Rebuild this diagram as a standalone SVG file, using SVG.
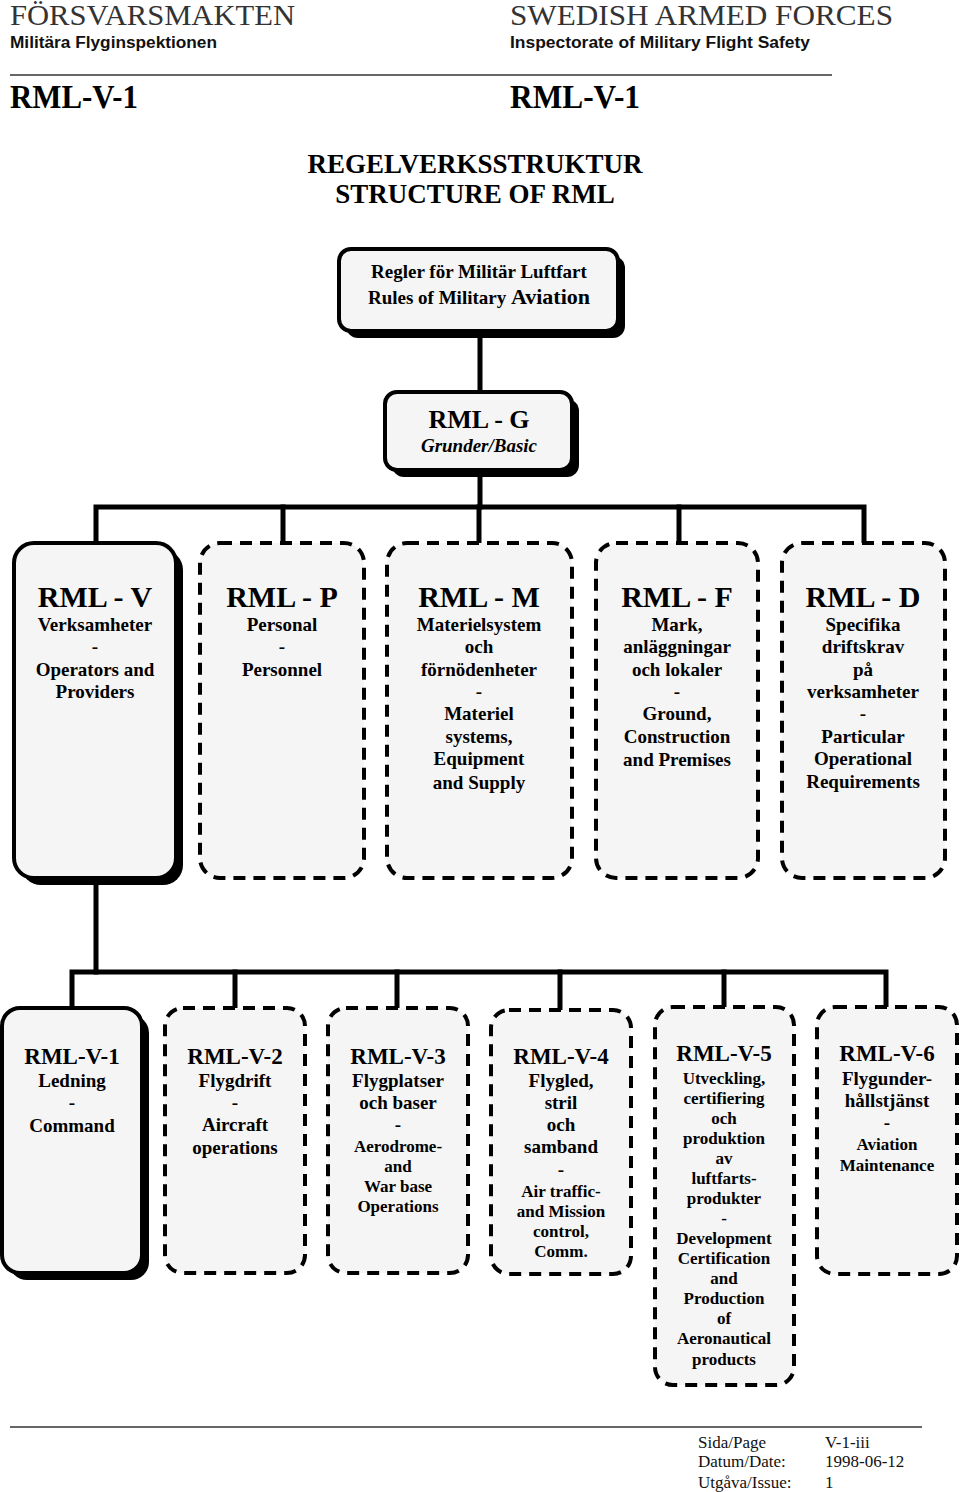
<svg xmlns="http://www.w3.org/2000/svg" width="960" height="1492" viewBox="0 0 960 1492">
<style>
.bg{fill:#fff}
.box{fill:#f5f5f5;stroke:#000;stroke-width:4}
.dash{fill:#f5f5f5;stroke:#000;stroke-width:4;stroke-dasharray:12 8}
.sh{fill:#000}
.conn{stroke:#000;stroke-width:5;fill:none;stroke-linecap:square}
.rule{stroke:#333;stroke-width:1.5}
.t{font-family:"Liberation Serif",serif;font-weight:bold;text-anchor:middle;fill:#000}
.h1{font-size:30px}
.h2{font-size:23px}
.s19{font-size:19px}
.s17{font-size:17px}
.hd{font-family:"Liberation Serif",serif;font-size:30px;fill:#333}
.hs{font-family:"Liberation Sans",sans-serif;font-size:16px;font-weight:bold;fill:#111}
.rv{font-family:"Liberation Serif",serif;font-size:34px;font-weight:bold;fill:#000}
.ft{font-family:"Liberation Serif",serif;font-size:17px;fill:#111}
</style>
<rect class="bg" x="0" y="0" width="960" height="1492"/>

<g id="header">
<text class="hd" x="10" y="25" textLength="285" lengthAdjust="spacingAndGlyphs">FÖRSVARSMAKTEN</text>
<text class="hs" x="10" y="48" textLength="207" lengthAdjust="spacingAndGlyphs">Militära Flyginspektionen</text>
<text class="hd" x="510" y="25" textLength="383" lengthAdjust="spacingAndGlyphs">SWEDISH ARMED FORCES</text>
<text class="hs" x="510" y="48" textLength="300" lengthAdjust="spacingAndGlyphs">Inspectorate of Military Flight Safety</text>
<line class="rule" x1="10" y1="75" x2="832" y2="75"/>
<text class="rv" x="10" y="108" textLength="128" lengthAdjust="spacingAndGlyphs">RML-V-1</text>
<text class="rv" x="510" y="108" textLength="130" lengthAdjust="spacingAndGlyphs">RML-V-1</text>
</g>

<g id="title">
<text class="t" x="475" y="173" style="font-size:27px">REGELVERKSSTRUKTUR</text>
<text class="t" x="475" y="203" style="font-size:27px">STRUCTURE OF RML</text>
</g>

<g id="connectors">
<line class="conn" x1="480" y1="332" x2="480" y2="392"/>
<line class="conn" x1="480" y1="470" x2="480" y2="507"/>
<polyline class="conn" points="96,543 96,507 864,507 864,543"/>
<line class="conn" x1="283" y1="507" x2="283" y2="543"/>
<line class="conn" x1="479" y1="507" x2="479" y2="543"/>
<line class="conn" x1="679" y1="507" x2="679" y2="543"/>
<line class="conn" x1="96" y1="878" x2="96" y2="972"/>
<polyline class="conn" points="72,1008 72,972 886,972 886,1007"/>
<line class="conn" x1="235" y1="972" x2="235" y2="1008"/>
<line class="conn" x1="397" y1="972" x2="397" y2="1008"/>
<line class="conn" x1="560" y1="972" x2="560" y2="1010"/>
<line class="conn" x1="724" y1="972" x2="724" y2="1007"/>
</g>

<g id="node-regler">
<rect class="sh" x="346" y="256" width="279" height="82" rx="12"/>
<rect class="box" x="339" y="249" width="279" height="82" rx="12"/>
<text class="t s19" x="479" y="278">Regler för Militär Luftfart</text>
<text class="t s19" x="479" y="304">Rules of Military <tspan style="font-size:22px">Aviation</tspan></text>
</g>

<g id="node-rml-g">
<rect class="sh" x="392" y="399" width="187" height="78" rx="12"/>
<rect class="box" x="385" y="392" width="187" height="78" rx="12"/>
<text class="t" x="479" y="428" style="font-size:26px">RML - G</text>
<text class="t s19" x="479" y="452" font-style="italic">Grunder/Basic</text>
</g>

<g id="node-rml-v">
<rect class="sh" x="21" y="550" width="162" height="335" rx="20"/>
<rect class="box" x="14" y="543" width="162" height="335" rx="20"/>
<text class="t h1" x="95" y="607">RML - V</text>
<text class="t s19" x="95" y="631">Verksamheter</text>
<text class="t s19" x="95" y="653">-</text>
<text class="t s19" x="95" y="676">Operators and</text>
<text class="t s19" x="95" y="698">Providers</text>
</g>

<g id="node-rml-p">
<rect class="dash" x="200" y="543" width="164" height="335" rx="20"/>
<text class="t h1" x="282" y="607">RML - P</text>
<text class="t s19" x="282" y="631">Personal</text>
<text class="t s19" x="282" y="653">-</text>
<text class="t s19" x="282" y="676">Personnel</text>
</g>

<g id="node-rml-m">
<rect class="dash" x="387" y="543" width="185" height="335" rx="20"/>
<text class="t h1" x="479" y="607">RML - M</text>
<text class="t s19" x="479" y="631">Materielsystem</text>
<text class="t s19" x="479" y="653">och</text>
<text class="t s19" x="479" y="676">förnödenheter</text>
<text class="t s19" x="479" y="698">-</text>
<text class="t s19" x="479" y="720">Materiel</text>
<text class="t s19" x="479" y="743">systems,</text>
<text class="t s19" x="479" y="765">Equipment</text>
<text class="t s19" x="479" y="789">and Supply</text>
</g>

<g id="node-rml-f">
<rect class="dash" x="596" y="543" width="162" height="335" rx="20"/>
<text class="t h1" x="677" y="607">RML - F</text>
<text class="t s19" x="677" y="631">Mark,</text>
<text class="t s19" x="677" y="653">anläggningar</text>
<text class="t s19" x="677" y="676">och lokaler</text>
<text class="t s19" x="677" y="698">-</text>
<text class="t s19" x="677" y="720">Ground,</text>
<text class="t s19" x="677" y="743">Construction</text>
<text class="t s19" x="677" y="766">and Premises</text>
</g>

<g id="node-rml-d">
<rect class="dash" x="782" y="543" width="163" height="335" rx="20"/>
<text class="t h1" x="863" y="607">RML - D</text>
<text class="t s19" x="863" y="631">Specifika</text>
<text class="t s19" x="863" y="653">driftskrav</text>
<text class="t s19" x="863" y="676">på</text>
<text class="t s19" x="863" y="698">verksamheter</text>
<text class="t s19" x="863" y="720">-</text>
<text class="t s19" x="863" y="743">Particular</text>
<text class="t s19" x="863" y="765">Operational</text>
<text class="t s19" x="863" y="788">Requirements</text>
</g>

<g id="node-rml-v-1">
<rect class="sh" x="9" y="1015" width="140" height="265" rx="18"/>
<rect class="box" x="2" y="1008" width="140" height="265" rx="18"/>
<text class="t h2" x="72" y="1064">RML-V-1</text>
<text class="t s19" x="72" y="1087">Ledning</text>
<text class="t s19" x="72" y="1109">-</text>
<text class="t s19" x="72" y="1132">Command</text>
</g>

<g id="node-rml-v-2">
<rect class="dash" x="165" y="1008" width="140" height="265" rx="18"/>
<text class="t h2" x="235" y="1064">RML-V-2</text>
<text class="t s19" x="235" y="1087">Flygdrift</text>
<text class="t s19" x="235" y="1109">-</text>
<text class="t s19" x="235" y="1131">Aircraft</text>
<text class="t s19" x="235" y="1154">operations</text>
</g>

<g id="node-rml-v-3">
<rect class="dash" x="328" y="1008" width="140" height="265" rx="18"/>
<text class="t h2" x="398" y="1064">RML-V-3</text>
<text class="t s19" x="398" y="1087">Flygplatser</text>
<text class="t s19" x="398" y="1109">och baser</text>
<text class="t s19" x="398" y="1131">-</text>
<text class="t s17" x="398" y="1152">Aerodrome-</text>
<text class="t s17" x="398" y="1172">and</text>
<text class="t s17" x="398" y="1192">War base</text>
<text class="t s17" x="398" y="1212">Operations</text>
</g>

<g id="node-rml-v-4">
<rect class="dash" x="491" y="1010" width="140" height="264" rx="18"/>
<text class="t h2" x="561" y="1064">RML-V-4</text>
<text class="t s19" x="561" y="1087">Flygled,</text>
<text class="t s19" x="561" y="1109">stril</text>
<text class="t s19" x="561" y="1131">och</text>
<text class="t s19" x="561" y="1153">samband</text>
<text class="t s19" x="561" y="1176">-</text>
<text class="t s17" x="561" y="1197">Air traffic-</text>
<text class="t s17" x="561" y="1217">and Mission</text>
<text class="t s17" x="561" y="1237">control,</text>
<text class="t s17" x="561" y="1257">Comm.</text>
</g>

<g id="node-rml-v-5">
<rect class="dash" x="655" y="1007" width="139" height="378" rx="18"/>
<text class="t h2" x="724" y="1061">RML-V-5</text>
<text class="t s17" x="724" y="1084">Utveckling,</text>
<text class="t s17" x="724" y="1104">certifiering</text>
<text class="t s17" x="724" y="1124">och</text>
<text class="t s17" x="724" y="1144">produktion</text>
<text class="t s17" x="724" y="1164">av</text>
<text class="t s17" x="724" y="1184">luftfarts-</text>
<text class="t s17" x="724" y="1204">produkter</text>
<text class="t s17" x="724" y="1224">-</text>
<text class="t s17" x="724" y="1244">Development</text>
<text class="t s17" x="724" y="1264">Certification</text>
<text class="t s17" x="724" y="1284">and</text>
<text class="t s17" x="724" y="1304">Production</text>
<text class="t s17" x="724" y="1324">of</text>
<text class="t s17" x="724" y="1344">Aeronautical</text>
<text class="t s17" x="724" y="1365">products</text>
</g>

<g id="node-rml-v-6">
<rect class="dash" x="817" y="1007" width="140" height="267" rx="18"/>
<text class="t h2" x="887" y="1061">RML-V-6</text>
<text class="t s19" x="887" y="1085">Flygunder-</text>
<text class="t s19" x="887" y="1107">hållstjänst</text>
<text class="t s19" x="887" y="1129">-</text>
<text class="t s17" x="887" y="1150">Aviation</text>
<text class="t s17" x="887" y="1171">Maintenance</text>
</g>

<g id="footer">
<line class="rule" x1="10" y1="1427" x2="922" y2="1427"/>
<text class="ft" x="698" y="1448">Sida/Page</text>
<text class="ft" x="825" y="1448">V-1-iii</text>
<text class="ft" x="698" y="1467">Datum/Date:</text>
<text class="ft" x="825" y="1467">1998-06-12</text>
<text class="ft" x="698" y="1488">Utgåva/Issue:</text>
<text class="ft" x="825" y="1488">1</text>
</g>
</svg>
